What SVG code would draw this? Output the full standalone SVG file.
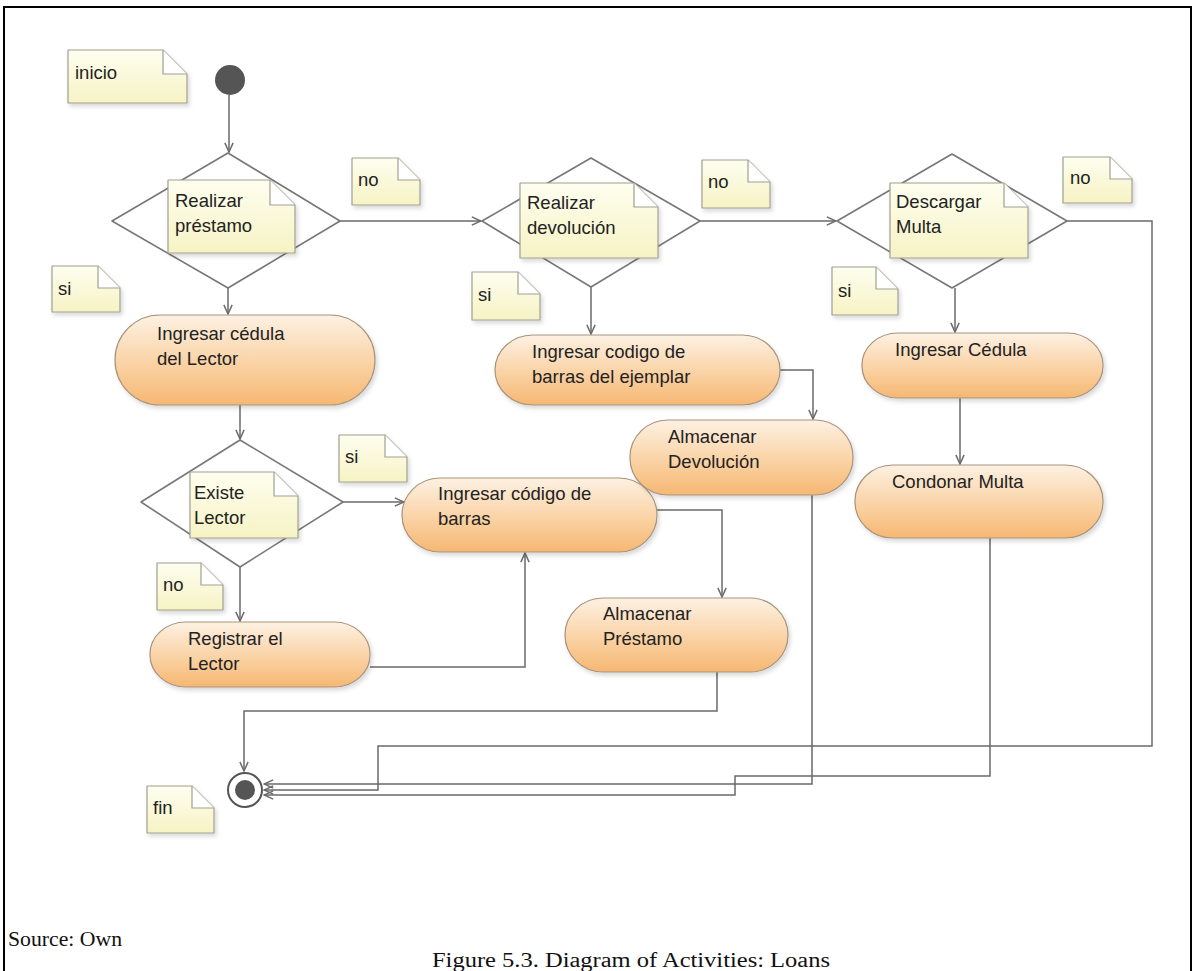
<svg xmlns="http://www.w3.org/2000/svg" width="1194" height="971" viewBox="0 0 1194 971">
<defs>
<style>
.frame{fill:none;stroke:#000;stroke-width:2}
.dia{fill:#fff;stroke:#777;stroke-width:1.6;stroke-linejoin:round}
.note{fill:url(#ng);stroke:#a0a090;stroke-width:1.2;stroke-linejoin:round;filter:url(#sh)}
.fold{fill:#fff;stroke:#a0a090;stroke-width:1.2;stroke-linejoin:round}
.act{fill:url(#ag);stroke:#a8937c;stroke-width:1.2;filter:url(#sh)}
.t{font-family:"Liberation Sans",Arial,sans-serif;font-size:18.5px;fill:#222}
.ca{fill:none;stroke:#6a6a6a;stroke-width:1.5;marker-end:url(#ar)}
.cap{font-family:"Liberation Serif","Times New Roman",serif;font-size:20.5px;fill:#111}
</style>
<linearGradient id="ng" x1="0" y1="0" x2="0" y2="1">
<stop offset="0" stop-color="#fefef0"/><stop offset="1" stop-color="#f6f3c4"/>
</linearGradient>
<linearGradient id="ag" x1="0" y1="0" x2="0" y2="1">
<stop offset="0" stop-color="#fdf1e3"/><stop offset="0.55" stop-color="#fad2a4"/><stop offset="1" stop-color="#f6b772"/>
</linearGradient>
<filter id="sh" x="-10%" y="-10%" width="125%" height="130%">
<feDropShadow dx="2" dy="3" stdDeviation="2" flood-color="#000" flood-opacity="0.15"/>
</filter>
<marker id="ar" viewBox="0 0 12 12" refX="11" refY="6" markerWidth="11" markerHeight="11" markerUnits="userSpaceOnUse" orient="auto">
<path d="M1,1.5 L11,6 L1,10.5" fill="none" stroke="#6a6a6a" stroke-width="1.6"/>
</marker>
</defs>
<rect width="1194" height="971" fill="#fff"/>
<path class="frame" d="M4,971 V7 H1191 V971"/>

<g id="connectors">
<path class="ca" d="M229,95 V152"/>
<path class="ca" d="M340,221 H481"/>
<path class="ca" d="M700,221 H836"/>
<path class="ca" d="M228,288 V314"/>
<path class="ca" d="M240,405 V439"/>
<path class="ca" d="M343,502 H404"/>
<path class="ca" d="M240,567 V621"/>
<path class="ca" d="M370,667 H525 V553"/>
<path class="ca" d="M657,510 H722 V597"/>
<path class="ca" d="M717,672 V711 H244 V771"/>
<path class="ca" d="M591,287 V334"/>
<path class="ca" d="M780,370 H813 V419"/>
<path class="ca" d="M812,495 V784 H264"/>
<path class="ca" d="M955,288 V332"/>
<path class="ca" d="M960,398 V464"/>
<path class="ca" d="M990,538 V776 H735 V795 H264"/>
<path class="ca" d="M1067,221 H1152 V746 H378 V790 H264"/>
</g>

<g id="start"><circle cx="230" cy="80" r="15" fill="#555"/></g>
<g id="end">
<circle cx="245" cy="790" r="17" fill="#fff" stroke="#555" stroke-width="2"/>
<circle cx="245" cy="790" r="10" fill="#555"/>
</g>

<g id="note-inicio">
<path class="note" d="M68,50 H163 L187,74 V103 H68 Z"/><path class="fold" d="M163,50 V74 H187"/>
<text class="t" x="75" y="79">inicio</text>
</g>
<g id="note-fin">
<path class="note" d="M147,786 H192 L214,808 V833 H147 Z"/><path class="fold" d="M192,786 V808 H214"/>
<text class="t" x="153" y="814">fin</text>
</g>

<g id="dec-prestamo">
<path class="dia" d="M112,221 L228,153 L340,221 L228,288 Z"/>
<path class="note" d="M168,180 H270 L295,205 V253 H168 Z"/><path class="fold" d="M270,180 V205 H295"/>
<text class="t" x="175" y="207">Realizar</text>
<text class="t" x="175" y="232">préstamo</text>
</g>
<g id="note-si-1">
<path class="note" d="M52,266 H98 L120,288 V312 H52 Z"/><path class="fold" d="M98,266 V288 H120"/>
<text class="t" x="58" y="295">si</text>
</g>
<g id="note-no-1">
<path class="note" d="M352,158 H398 L420,180 V205 H352 Z"/><path class="fold" d="M398,158 V180 H420"/>
<text class="t" x="358" y="186">no</text>
</g>

<g id="act-cedula-lector">
<rect class="act" x="115" y="315" width="260" height="90" rx="45" ry="45"/>
<text class="t" x="157" y="340">Ingresar cédula</text>
<text class="t" x="157" y="365">del Lector</text>
</g>

<g id="dec-existe">
<path class="dia" d="M141,502 L240,440 L343,502 L240,567 Z"/>
<path class="note" d="M190,472 H274 L298,496 V538 H190 Z"/><path class="fold" d="M274,472 V496 H298"/>
<text class="t" x="194" y="499">Existe</text>
<text class="t" x="194" y="524">Lector</text>
</g>
<g id="note-si-2">
<path class="note" d="M339,435 H385 L407,457 V482 H339 Z"/><path class="fold" d="M385,435 V457 H407"/>
<text class="t" x="345" y="463">si</text>
</g>
<g id="note-no-2">
<path class="note" d="M157,563 H201 L223,585 V610 H157 Z"/><path class="fold" d="M201,563 V585 H223"/>
<text class="t" x="163" y="591">no</text>
</g>

<g id="act-registrar">
<rect class="act" x="150" y="622" width="220" height="65" rx="36" ry="32"/>
<text class="t" x="188" y="645">Registrar el</text>
<text class="t" x="188" y="670">Lector</text>
</g>
<g id="act-codigo-barras">
<rect class="act" x="402" y="478" width="255" height="74" rx="38" ry="37"/>
<text class="t" x="438" y="500">Ingresar código de</text>
<text class="t" x="438" y="525">barras</text>
</g>
<g id="act-almacenar-prestamo">
<rect class="act" x="565" y="598" width="223" height="74" rx="38" ry="37"/>
<text class="t" x="603" y="620">Almacenar</text>
<text class="t" x="603" y="645">Préstamo</text>
</g>

<g id="dec-devolucion">
<path class="dia" d="M482,221 L591,158 L700,221 L591,287 Z"/>
<path class="note" d="M520,183 H634 L658,207 V258 H520 Z"/><path class="fold" d="M634,183 V207 H658"/>
<text class="t" x="527" y="209">Realizar</text>
<text class="t" x="527" y="234">devolución</text>
</g>
<g id="note-si-3">
<path class="note" d="M472,272 H518 L540,294 V320 H472 Z"/><path class="fold" d="M518,272 V294 H540"/>
<text class="t" x="478" y="301">si</text>
</g>
<g id="note-no-3">
<path class="note" d="M702,160 H748 L770,182 V208 H702 Z"/><path class="fold" d="M748,160 V182 H770"/>
<text class="t" x="708" y="188">no</text>
</g>
<g id="act-codigo-ejemplar">
<rect class="act" x="495" y="335" width="285" height="70" rx="38" ry="35"/>
<text class="t" x="532" y="358">Ingresar codigo de</text>
<text class="t" x="532" y="383">barras del ejemplar</text>
</g>
<g id="act-almacenar-devolucion">
<rect class="act" x="630" y="420" width="223" height="75" rx="38" ry="37"/>
<text class="t" x="668" y="443">Almacenar</text>
<text class="t" x="668" y="468">Devolución</text>
</g>

<g id="dec-multa">
<path class="dia" d="M837,221 L952,154 L1067,221 L952,288 Z"/>
<path class="note" d="M890,183 H1004 L1028,207 V258 H890 Z"/><path class="fold" d="M1004,183 V207 H1028"/>
<text class="t" x="896" y="208">Descargar</text>
<text class="t" x="896" y="233">Multa</text>
</g>
<g id="note-si-4">
<path class="note" d="M832,267 H876 L898,289 V315 H832 Z"/><path class="fold" d="M876,267 V289 H898"/>
<text class="t" x="838" y="297">si</text>
</g>
<g id="note-no-4">
<path class="note" d="M1063,157 H1110 L1132,179 V203 H1063 Z"/><path class="fold" d="M1110,157 V179 H1132"/>
<text class="t" x="1070" y="184">no</text>
</g>
<g id="act-ingresar-cedula">
<rect class="act" x="862" y="333" width="241" height="65" rx="36" ry="32"/>
<text class="t" x="895" y="356">Ingresar Cédula</text>
</g>
<g id="act-condonar">
<rect class="act" x="855" y="465" width="248" height="73" rx="38" ry="36"/>
<text class="t" x="892" y="488">Condonar Multa</text>
</g>

<text class="cap" x="8" y="946" textLength="114" lengthAdjust="spacingAndGlyphs">Source: Own</text>
<text class="cap" x="432" y="967" textLength="398" lengthAdjust="spacingAndGlyphs">Figure 5.3. Diagram of Activities: Loans</text>
</svg>
